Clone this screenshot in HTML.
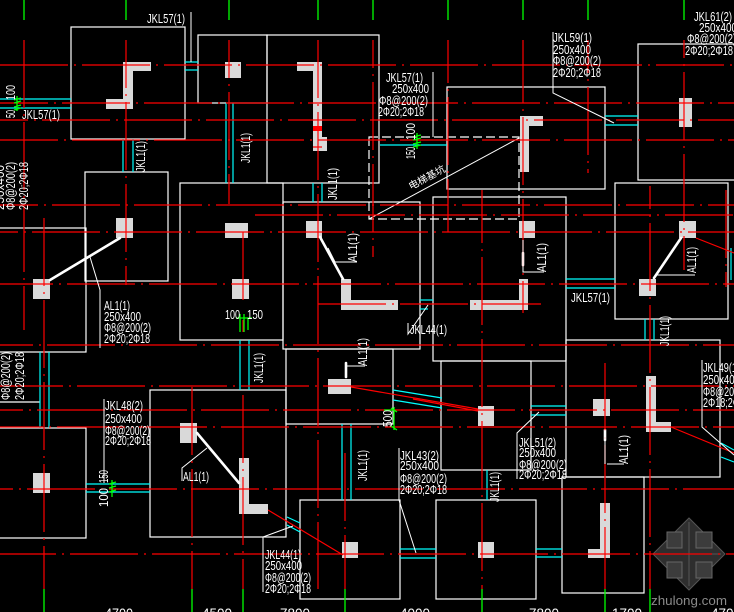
<!DOCTYPE html>
<html><head><meta charset="utf-8"><style>
html,body{margin:0;padding:0;background:#000;}
svg{display:block;}
text{font-family:"Liberation Sans","Noto Sans CJK SC",sans-serif;fill:#fff;}
</style></head><body>
<svg xmlns="http://www.w3.org/2000/svg" width="734" height="612" viewBox="0 0 734 612">
<rect width="734" height="612" fill="#000"/>

<!-- grey columns -->
<g fill="#d9d9d9">
<polygon points="123,62 151,62 151,71 133,71 133,109 106,109 106,99 123,99"/>
<rect x="225" y="62" width="16" height="16"/>
<polygon points="297,62 322,62 322,137 327,137 327,151 313,151 313,71 297,71"/>
<polygon points="520,116 543,116 543,126 529,126 529,172 520,172"/>
<rect x="679" y="98" width="13" height="29"/>
<rect x="116" y="218" width="17" height="20"/>
<rect x="33" y="279" width="17" height="20"/>
<rect x="225" y="223" width="23" height="15"/>
<rect x="306" y="221" width="16" height="17"/>
<rect x="232" y="279" width="17" height="20"/>
<polygon points="341,279 351,279 351,300 398,300 398,310 341,310"/>
<polygon points="470,300 519,300 519,279 528,279 528,310 470,310"/>
<rect x="328" y="379" width="23" height="15"/>
<rect x="519" y="221" width="16" height="17"/>
<rect x="679" y="221" width="17" height="17"/>
<rect x="639" y="279" width="17" height="17"/>
<polygon points="646,376 656,376 656,422 671,422 671,432 646,432"/>
<rect x="593" y="399" width="17" height="17"/>
<rect x="33" y="473" width="17" height="20"/>
<rect x="180" y="423" width="17" height="20"/>
<polygon points="239,458 249,458 249,504 268,504 268,514 239,514"/>
<rect x="342" y="542" width="16" height="16"/>
<rect x="478" y="542" width="16" height="16"/>
<rect x="478" y="406" width="16" height="20"/>
<polygon points="600,503 610,503 610,558 588,558 588,549 600,549"/>
</g>

<!-- watermark -->
<g>
<polygon points="689,518 725,554 689,590 653,554" fill="#2e2e2e" stroke="#555" stroke-width="1"/>
<g stroke="#666" stroke-width="1" fill="#3c3c3c">
<rect x="667" y="532" width="15" height="16"/>
<rect x="696" y="532" width="16" height="16"/>
<rect x="667" y="562" width="15" height="16"/>
<rect x="696" y="562" width="16" height="16"/>
</g>
<g stroke="#555" stroke-width="1">
<line x1="689" y1="554" x2="689" y2="522"/><line x1="689" y1="554" x2="689" y2="586"/>
<line x1="689" y1="554" x2="657" y2="554"/><line x1="689" y1="554" x2="721" y2="554"/>
</g>
</g>

<!-- white outlines -->
<g fill="none" stroke="#fff" stroke-width="1.2">
<rect x="71" y="27" width="114" height="112"/>
<rect x="198" y="35" width="69" height="68"/>
<rect x="267" y="35" width="112" height="148"/>
<rect x="447" y="87" width="158" height="102"/>
<rect x="638" y="44" width="100" height="136"/>
<rect x="85" y="172" width="83" height="109"/>
<rect x="-5" y="228" width="91" height="124"/>
<rect x="180" y="183" width="103" height="157"/>
<rect x="283" y="202" width="137" height="147"/>
<rect x="433" y="197" width="133" height="164"/>
<rect x="615" y="183" width="113" height="136"/>
<rect x="566" y="340" width="154" height="137"/>
<rect x="286" y="349" width="107" height="75"/>
<rect x="441" y="361" width="90" height="109"/>
<rect x="150" y="390" width="136" height="147"/>
<rect x="-5" y="428" width="91" height="110"/>
<rect x="300" y="500" width="100" height="99"/>
<rect x="436" y="500" width="100" height="99"/>
<rect x="562" y="477" width="82" height="116"/>
<line x1="0" y1="402" x2="40" y2="402"/>
</g>
<!-- dashed pit -->
<rect x="369" y="137" width="150" height="82" fill="none" stroke="#fff" stroke-width="1.2" stroke-dasharray="9 4"/>
<line x1="369" y1="219" x2="519" y2="138" stroke="#fff" stroke-width="1"/>
<text transform="translate(411,190) rotate(-28.4)" font-size="10" textLength="40" lengthAdjust="spacingAndGlyphs" style="font-family:'Noto Sans CJK SC',sans-serif">电梯基坑</text>

<!-- thick beams -->
<g stroke="#fff" stroke-width="2.6" stroke-linecap="round">
<line x1="120" y1="238" x2="50" y2="280"/>
<line x1="320" y1="237" x2="343" y2="279"/>
<line x1="681" y1="238" x2="654" y2="278"/>
<line x1="197" y1="433" x2="239" y2="483"/>
<line x1="523" y1="253" x2="523" y2="265"/>
<line x1="605" y1="430" x2="605" y2="440"/>
<line x1="346" y1="363" x2="346" y2="377"/>
</g>

<!-- cyan -->
<g stroke="#00ffff" stroke-width="1.2" fill="none">
<line x1="0" y1="99" x2="71" y2="99"/><line x1="0" y1="108" x2="71" y2="108"/>
<line x1="185" y1="62" x2="198" y2="62"/><line x1="185" y1="70" x2="198" y2="70"/>
<line x1="123" y1="139" x2="123" y2="172"/><line x1="133" y1="139" x2="133" y2="172"/>
<line x1="226" y1="103" x2="226" y2="183"/><line x1="233" y1="103" x2="233" y2="183"/>
<line x1="313" y1="183" x2="313" y2="202"/><line x1="322" y1="183" x2="322" y2="202"/>
<line x1="380" y1="145" x2="447" y2="145"/>
<line x1="605" y1="116" x2="638" y2="116"/><line x1="605" y1="125" x2="638" y2="125"/>
<line x1="240" y1="340" x2="240" y2="390"/><line x1="249" y1="340" x2="249" y2="390"/>
<line x1="566" y1="279" x2="615" y2="279"/><line x1="566" y1="288" x2="615" y2="288"/>
<line x1="645" y1="319" x2="645" y2="340"/><line x1="654" y1="319" x2="654" y2="340"/>
<line x1="40" y1="352" x2="40" y2="428"/><line x1="49" y1="352" x2="49" y2="428"/>
<line x1="86" y1="484" x2="150" y2="484"/><line x1="86" y1="492" x2="150" y2="492"/>
<line x1="342" y1="424" x2="342" y2="500"/><line x1="351" y1="424" x2="351" y2="500"/>
<line x1="400" y1="549" x2="436" y2="549"/><line x1="400" y1="558" x2="436" y2="558"/>
<line x1="536" y1="549" x2="562" y2="549"/><line x1="536" y1="557" x2="562" y2="557"/>
<line x1="531" y1="406" x2="566" y2="406"/><line x1="531" y1="415" x2="566" y2="415"/>
<line x1="420" y1="300" x2="433" y2="300"/><line x1="420" y1="309" x2="428" y2="309"/>
<line x1="487" y1="470" x2="487" y2="500"/>
<line x1="393" y1="390" x2="442" y2="398"/><line x1="393" y1="400" x2="442" y2="408"/>
<line x1="287" y1="517" x2="300" y2="523"/><line x1="287" y1="525" x2="300" y2="532"/>
<line x1="721" y1="443" x2="734" y2="450"/><line x1="721" y1="457" x2="734" y2="462"/>
<line x1="731" y1="248" x2="731" y2="280"/>
</g>

<!-- red axis lines -->
<g stroke="#ff0000" stroke-width="1.2" stroke-dasharray="68 6 2 6">
<line x1="0" y1="65" x2="734" y2="65"/>
<line x1="0" y1="103" x2="734" y2="103" stroke-dashoffset="20"/>
<line x1="0" y1="120" x2="734" y2="120" stroke-dashoffset="40"/>
<line x1="0" y1="140" x2="734" y2="140" stroke-dashoffset="10"/>
<line x1="0" y1="205" x2="734" y2="205" stroke-dashoffset="30"/>
<line x1="255" y1="215" x2="734" y2="215"/>
<line x1="0" y1="232" x2="734" y2="232" stroke-dashoffset="50"/>
<line x1="0" y1="284" x2="734" y2="284" stroke-dashoffset="15"/>
<line x1="318" y1="304" x2="541" y2="304"/>
<line x1="0" y1="345" x2="734" y2="345" stroke-dashoffset="35"/>
<line x1="0" y1="386" x2="734" y2="386" stroke-dashoffset="5"/>
<line x1="0" y1="410" x2="734" y2="410" stroke-dashoffset="45"/>
<line x1="0" y1="427" x2="734" y2="427" stroke-dashoffset="25"/>
<line x1="0" y1="489" x2="734" y2="489" stroke-dashoffset="55"/>
<line x1="0" y1="554" x2="734" y2="554" stroke-dashoffset="12"/>

<line x1="24" y1="40" x2="24" y2="330"/>
<line x1="44" y1="218" x2="44" y2="589"/>
<line x1="126" y1="40" x2="126" y2="285" stroke-dashoffset="20"/>
<line x1="192" y1="387" x2="192" y2="589"/>
<line x1="229" y1="40" x2="229" y2="204" stroke-dashoffset="30"/>
<line x1="243" y1="232" x2="243" y2="300"/>
<line x1="243" y1="320" x2="243" y2="332"/>
<line x1="243" y1="395" x2="243" y2="589"/>
<line x1="318" y1="40" x2="318" y2="589" stroke-dashoffset="10"/>
<line x1="345" y1="453" x2="345" y2="589"/>
<line x1="373" y1="40" x2="373" y2="257" stroke-dashoffset="40"/>
<line x1="448" y1="40" x2="448" y2="232" stroke-dashoffset="25"/>
<line x1="482" y1="190" x2="482" y2="589" stroke-dashoffset="15"/>
<line x1="523" y1="40" x2="523" y2="313" stroke-dashoffset="5"/>
<line x1="588" y1="40" x2="588" y2="173" stroke-dashoffset="35"/>
<line x1="605" y1="363" x2="605" y2="589"/>
<line x1="650" y1="186" x2="650" y2="589" stroke-dashoffset="45"/>
<line x1="684" y1="40" x2="684" y2="270" stroke-dashoffset="50"/>
<line x1="726" y1="190" x2="726" y2="287"/>
</g>
<g stroke="#ff0000" stroke-width="1.2">
<line x1="351" y1="387" x2="478" y2="409"/>
<line x1="413" y1="399" x2="478" y2="411"/>
<line x1="268" y1="510" x2="343" y2="555"/>
<line x1="671" y1="427" x2="734" y2="453"/>
<line x1="696" y1="238" x2="734" y2="253"/>
<rect x="313" y="126" width="9" height="5" fill="#ff0000" stroke="none"/>
<line x1="313" y1="147" x2="322" y2="147"/>
</g>

<!-- green ticks -->
<g stroke="#00ff00" stroke-width="1.3">
<line x1="24" y1="0" x2="24" y2="20"/><line x1="126" y1="0" x2="126" y2="20"/>
<line x1="229" y1="0" x2="229" y2="20"/><line x1="318" y1="0" x2="318" y2="20"/>
<line x1="373" y1="0" x2="373" y2="20"/><line x1="448" y1="0" x2="448" y2="20"/>
<line x1="523" y1="0" x2="523" y2="20"/><line x1="588" y1="0" x2="588" y2="20"/>
<line x1="684" y1="0" x2="684" y2="20"/>
<line x1="44" y1="589" x2="44" y2="612"/><line x1="192" y1="589" x2="192" y2="612"/>
<line x1="243" y1="589" x2="243" y2="612"/><line x1="345" y1="589" x2="345" y2="612"/>
<line x1="482" y1="589" x2="482" y2="612"/><line x1="605" y1="589" x2="605" y2="612"/>
<line x1="650" y1="589" x2="650" y2="612"/>
<path d="M17 96V111 M14 100L21 98 M14 103L21 101 M14 107L21 105 M14 110L21 108"/>
<path d="M417 133V149 M413 137L421 135 M413 140L421 138 M413 144L421 142 M413 147L421 145"/>
<path d="M236 318H252 M240 314V332 M244 314V332 M248 318V330"/>
<path d="M112 480V497 M109 484L116 482 M109 488L116 486 M109 492L116 490"/>
<path d="M394 407V430 M384 410H394 M391 408L397 412 M391 426L397 430"/>
</g>

<!-- thin white leaders -->
<g stroke="#fff" stroke-width="1" fill="none">
<polyline points="191,12 191,62"/>
<polyline points="433,72 433,137"/>
<polyline points="553,32 553,93 614,123"/>
<polyline points="90,257 100,290 100,348"/>
<polyline points="104,399 104,483"/>
<polyline points="408,323 408,334 428,305"/>
<polyline points="399,448 399,500 416,553"/>
<polyline points="263,592 263,537 293,526"/>
<polyline points="517,479 517,433 539,412"/>
<polyline points="702,360 702,427 734,455"/>
<polyline points="182,481 182,468 207,448"/>
<polyline points="328,248 335,262 357,262"/>
<polyline points="346,366 365,366"/>
<polyline points="523,240 523,272 544,272"/>
<polyline points="657,275 695,275"/>
<polyline points="607,464 624,464"/>
<polyline points="605,430 605,464"/>
</g>

<!-- labels -->
<g font-size="12.5" lengthAdjust="spacingAndGlyphs">
<text x="147" y="23" textLength="38" lengthAdjust="spacingAndGlyphs">JKL57(1)</text>
<text x="22" y="119" textLength="38" lengthAdjust="spacingAndGlyphs">JKL57(1)</text>

<text x="386" y="82" textLength="37" lengthAdjust="spacingAndGlyphs">JKL57(1)</text>
<text x="392" y="93" textLength="37" lengthAdjust="spacingAndGlyphs">250x400</text>
<text x="379" y="105" textLength="49" lengthAdjust="spacingAndGlyphs">Φ8@200(2)</text>
<text x="378" y="116" textLength="46" lengthAdjust="spacingAndGlyphs">2Φ20;2Φ18</text>

<text x="553" y="42" textLength="39" lengthAdjust="spacingAndGlyphs">JKL59(1)</text>
<text x="553" y="54" textLength="38" lengthAdjust="spacingAndGlyphs">250x400</text>
<text x="553" y="65" textLength="48" lengthAdjust="spacingAndGlyphs">Φ8@200(2)</text>
<text x="553" y="77" textLength="48" lengthAdjust="spacingAndGlyphs">2Φ20;2Φ18</text>

<text x="694" y="21" textLength="38" lengthAdjust="spacingAndGlyphs">JKL61(2)</text>
<text x="699" y="32" textLength="38" lengthAdjust="spacingAndGlyphs">250x400</text>
<text x="687" y="43" textLength="49" lengthAdjust="spacingAndGlyphs">Φ8@200(2)</text>
<text x="685" y="55" textLength="48" lengthAdjust="spacingAndGlyphs">2Φ20;2Φ18</text>

<text x="104" y="310" textLength="26" lengthAdjust="spacingAndGlyphs">AL1(1)</text>
<text x="104" y="321" textLength="37" lengthAdjust="spacingAndGlyphs">250x400</text>
<text x="104" y="332" textLength="47" lengthAdjust="spacingAndGlyphs">Φ8@200(2)</text>
<text x="104" y="343" textLength="46" lengthAdjust="spacingAndGlyphs">2Φ20;2Φ18</text>

<text x="105" y="410" textLength="38" lengthAdjust="spacingAndGlyphs">JKL48(2)</text>
<text x="105" y="423" textLength="37" lengthAdjust="spacingAndGlyphs">250x400</text>
<text x="105" y="435" textLength="45" lengthAdjust="spacingAndGlyphs">Φ8@200(2)</text>
<text x="105" y="445" textLength="46" lengthAdjust="spacingAndGlyphs">2Φ20;2Φ18</text>

<text x="410" y="334" textLength="37" lengthAdjust="spacingAndGlyphs">JKL44(1)</text>
<text x="571" y="302" textLength="39" lengthAdjust="spacingAndGlyphs">JKL57(1)</text>

<text x="400" y="460" textLength="39" lengthAdjust="spacingAndGlyphs">JKL43(2)</text>
<text x="400" y="470" textLength="39" lengthAdjust="spacingAndGlyphs">250x400</text>
<text x="400" y="483" textLength="47" lengthAdjust="spacingAndGlyphs">Φ8@200(2)</text>
<text x="400" y="494" textLength="47" lengthAdjust="spacingAndGlyphs">2Φ20;2Φ18</text>

<text x="265" y="559" textLength="36" lengthAdjust="spacingAndGlyphs">JKL44(1)</text>
<text x="265" y="570" textLength="37" lengthAdjust="spacingAndGlyphs">250x400</text>
<text x="265" y="582" textLength="46" lengthAdjust="spacingAndGlyphs">Φ8@200(2)</text>
<text x="265" y="593" textLength="46" lengthAdjust="spacingAndGlyphs">2Φ20;2Φ18</text>

<text x="519" y="447" textLength="37" lengthAdjust="spacingAndGlyphs">JKL51(2)</text>
<text x="519" y="457" textLength="37" lengthAdjust="spacingAndGlyphs">250x400</text>
<text x="519" y="469" textLength="48" lengthAdjust="spacingAndGlyphs">Φ8@200(2)</text>
<text x="519" y="479" textLength="48" lengthAdjust="spacingAndGlyphs">2Φ20;2Φ18</text>

<text x="703" y="372" textLength="37" lengthAdjust="spacingAndGlyphs">JKL49(1)</text>
<text x="703" y="384" textLength="37" lengthAdjust="spacingAndGlyphs">250x400</text>
<text x="703" y="396" textLength="47" lengthAdjust="spacingAndGlyphs">Φ8@200(2)</text>
<text x="703" y="407" textLength="47" lengthAdjust="spacingAndGlyphs">2Φ18;2Φ18</text>

<text x="183" y="481" textLength="26" lengthAdjust="spacingAndGlyphs">AL1(1)</text>
<text x="225" y="319" textLength="15" lengthAdjust="spacingAndGlyphs">100</text>
<text x="247" y="319" textLength="16" lengthAdjust="spacingAndGlyphs">150</text>

<!-- rotated -->
<text transform="translate(145,172) rotate(-90)" textLength="31" lengthAdjust="spacingAndGlyphs">JKL1(1)</text>
<text transform="translate(250,163) rotate(-90)" textLength="30" lengthAdjust="spacingAndGlyphs">JKL1(1)</text>
<text transform="translate(337,200) rotate(-90)" textLength="32" lengthAdjust="spacingAndGlyphs">JKL1(1)</text>
<text transform="translate(263,383) rotate(-90)" textLength="30" lengthAdjust="spacingAndGlyphs">JKL1(1)</text>
<text transform="translate(367,481) rotate(-90)" textLength="31" lengthAdjust="spacingAndGlyphs">JKL1(1)</text>
<text transform="translate(669,346) rotate(-90)" textLength="30" lengthAdjust="spacingAndGlyphs">JKL1(1)</text>
<text transform="translate(499,502) rotate(-90)" textLength="30" lengthAdjust="spacingAndGlyphs">JKL1(1)</text>
<text transform="translate(357,262) rotate(-90)" textLength="29" lengthAdjust="spacingAndGlyphs">AL1(1)</text>
<text transform="translate(367,366) rotate(-90)" textLength="28" lengthAdjust="spacingAndGlyphs">AL1(1)</text>
<text transform="translate(546,272) rotate(-90)" textLength="29" lengthAdjust="spacingAndGlyphs">AL1(1)</text>
<text transform="translate(696,273) rotate(-90)" textLength="26" lengthAdjust="spacingAndGlyphs">AL1(1)</text>
<text transform="translate(628,464) rotate(-90)" textLength="29" lengthAdjust="spacingAndGlyphs">AL1(1)</text>
<text transform="translate(392,427) rotate(-90)" textLength="17" lengthAdjust="spacingAndGlyphs">500</text>
<text transform="translate(415,159) rotate(-90)" textLength="12" lengthAdjust="spacingAndGlyphs">150</text>
<text transform="translate(415,140) rotate(-90)" textLength="17" lengthAdjust="spacingAndGlyphs">100</text>
<text transform="translate(108,507) rotate(-90)" textLength="19" lengthAdjust="spacingAndGlyphs">100</text>
<text transform="translate(108,483) rotate(-90)" textLength="13" lengthAdjust="spacingAndGlyphs">150</text>
<text transform="translate(15,118) rotate(-90)" textLength="8" lengthAdjust="spacingAndGlyphs">50</text>
<text transform="translate(15,100) rotate(-90)" textLength="15" lengthAdjust="spacingAndGlyphs">100</text>
<text transform="translate(4,210) rotate(-90)" textLength="45" lengthAdjust="spacingAndGlyphs">250x400</text>
<text transform="translate(15,210) rotate(-90)" textLength="48" lengthAdjust="spacingAndGlyphs">Φ8@200(2)</text>
<text transform="translate(28,210) rotate(-90)" textLength="48" lengthAdjust="spacingAndGlyphs">2Φ20;2Φ18</text>
<text transform="translate(10,400) rotate(-90)" textLength="48" lengthAdjust="spacingAndGlyphs">Φ8@200(2)</text>
<text transform="translate(24,400) rotate(-90)" textLength="48" lengthAdjust="spacingAndGlyphs">2Φ20;2Φ18</text>
</g>

<!-- bottom dimension numbers (mostly clipped) -->
<g font-size="14">
<text x="105" y="618" textLength="28" lengthAdjust="spacingAndGlyphs">4700</text>
<text x="202" y="618" textLength="30" lengthAdjust="spacingAndGlyphs">4500</text>
<text x="280" y="618" textLength="30" lengthAdjust="spacingAndGlyphs">7800</text>
<text x="400" y="618" textLength="30" lengthAdjust="spacingAndGlyphs">4000</text>
<text x="529" y="618" textLength="30" lengthAdjust="spacingAndGlyphs">7800</text>
<text x="612" y="618" textLength="30" lengthAdjust="spacingAndGlyphs">1700</text>
<text x="711" y="618" textLength="30" lengthAdjust="spacingAndGlyphs">4700</text>
</g>

<text x="651" y="605" font-size="13" textLength="76" lengthAdjust="spacingAndGlyphs" style="fill:#8a8a8a">zhulong.com</text>
</svg>
</body></html>
